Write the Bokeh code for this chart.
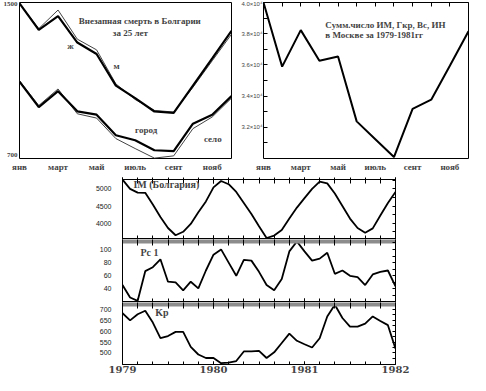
from bokeh.plotting import figure
from bokeh.layouts import column, row
from bokeh.models import FixedTicker, LinearAxis, Range1d, Spacer, Label
from bokeh.embed import file_html
from bokeh.resources import INLINE

SERIF = "Liberation Serif"
SANS = "Liberation Sans"

# ---------------- data ----------------
months = [1, 2, 3, 4, 5, 6, 7, 8, 9, 10, 11, 12]
month_tick_pos = [1, 3, 5, 7, 9, 11]
month_tick_labels = ["янв", "март", "май", "июль", "сент", "нояб"]

deaths_m = [1505, 1364, 1438, 1297, 1236, 1068, 1001, 930, 923, 1068, 1213, 1359]
deaths_f = [1505, 1371, 1470, 1315, 1258, 1077, 994, 936, 927, 1059, 1200, 1341]
deaths_city = [1089, 953, 1038, 931, 913, 804, 777, 724, 719, 865, 913, 1012]
deaths_village = [1094, 962, 1050, 918, 895, 786, 733, 682, 694, 839, 901, 1001]

moscow = [40000, 35890, 38230, 36260, 36540, 32380, 31230, 30090, 33180, 33770, 35950, 38160]
moscow_ticks = [32000, 34000, 36000, 38000, 40000]
moscow_tick_labels = ["3.2×10⁴", "3.4×10⁴", "3.6×10⁴", "3.8×10⁴", "4.0×10⁴"]

year_ticks = [1979, 1980, 1981, 1982]
month_index = list(range(37))  # monthly samples Jan 1979 .. Jan 1982

im = [5270, 5000, 4890, 4885, 4545, 4180, 3860, 3650, 3750, 3980, 4320, 4635,
      5045, 5230, 5135, 4910, 4590, 4270, 3910, 3570, 3640, 3800, 4135, 4455,
      4730, 5000, 5210, 5160, 4865, 4500, 4135, 3860, 3725, 3850, 4225, 4590, 4910]
pc1 = [46, 27, 22, 67, 73, 85, 51, 50, 38, 51, 41, 68,
       92, 100, 80, 60, 84, 83, 66, 46, 38, 55, 97, 112,
       97, 83, 86, 95, 63, 68, 60, 58, 46, 62, 66, 68, 44]
kp = [683, 650, 678, 694, 640, 568, 578, 597, 597, 528, 493, 477,
      477, 453, 456, 463, 507, 507, 510, 477, 503, 546, 589, 556,
      540, 525, 568, 668, 722, 661, 621, 621, 635, 668, 647, 628, 520]

t = [1979 + k / 12 for k in month_index]


def base_fig(**kw):
    p = figure(output_backend="svg", toolbar_location=None, **kw)
    p.grid.visible = False
    p.outline_line_color = "black"
    p.outline_line_width = 1
    p.background_fill_color = "white"
    p.border_fill_color = "white"
    return p


def hidden_labels(ax):
    ax.major_label_text_font_size = "1px"
    ax.major_label_text_color = None
    ax.major_label_standoff = 0


# ---------------- top-left ----------------
pA = base_fig(width=238, height=177, x_range=Range1d(1, 12), y_range=Range1d(680, 1510),
              min_border_left=15, min_border_right=7, min_border_top=2, min_border_bottom=19)
pA.xaxis.ticker = FixedTicker(ticks=month_tick_pos)
pA.xaxis.major_label_overrides = {p: l for p, l in zip(month_tick_pos, month_tick_labels)}
pA.yaxis.ticker = FixedTicker(ticks=[700, 1500])
for ax in (pA.xaxis[0], pA.yaxis[0]):
    ax.axis_line_color = None
    ax.major_tick_in = 0
    ax.major_tick_out = 0
    ax.minor_tick_line_color = None
    ax.major_label_text_font = SERIF
    ax.major_label_text_font_style = "bold"
pA.xaxis.major_label_text_font_size = "9px"
pA.xaxis.major_label_standoff = 3
pA.yaxis.major_label_text_font_size = "7px"
pA.yaxis.major_label_standoff = 2

pA.line(months, deaths_f, line_width=1, color="#444444")
pA.line(months, deaths_m, line_width=2.2, color="black")
pA.line(months, deaths_village, line_width=1, color="#444444")
pA.line(months, deaths_city, line_width=2.2, color="black")

for x, y, txt in [(7.24, 1414, "Внезапная смерть в Болгарии"), (6.75, 1350, "за 25 лет"),
                  (3.65, 1281, "ж"), (6.04, 1170, "м"), (7.57, 832, "город"), (11.03, 784, "село")]:
    pA.add_layout(Label(x=x, y=y, text=txt, text_font=SERIF, text_font_style="bold",
                        text_font_size="9px", text_align="center", text_baseline="middle"))

# ---------------- top-right ----------------
pB = base_fig(width=232, height=177, x_range=Range1d(1, 12), y_range=Range1d(30000, 40000),
              min_border_left=22, min_border_right=2, min_border_top=2, min_border_bottom=19)
pB.xaxis.ticker = FixedTicker(ticks=month_tick_pos)
pB.xaxis.major_label_overrides = {p: l for p, l in zip(month_tick_pos, month_tick_labels)}
pB.xaxis.axis_line_color = None
pB.xaxis.major_tick_in = 0
pB.xaxis.major_tick_out = 0
pB.xaxis.minor_tick_line_color = None
pB.xaxis.major_label_text_font = SERIF
pB.xaxis.major_label_text_font_style = "bold"
pB.xaxis.major_label_text_font_size = "9px"
pB.xaxis.major_label_standoff = 3

pB.yaxis.ticker = FixedTicker(ticks=moscow_ticks, minor_ticks=[31000, 33000, 35000, 37000, 39000])
pB.yaxis.major_label_overrides = {p: l for p, l in zip(moscow_ticks, moscow_tick_labels)}
pB.yaxis.axis_line_color = None
pB.yaxis.major_tick_in = 4
pB.yaxis.major_tick_out = 0
pB.yaxis.minor_tick_in = 4
pB.yaxis.minor_tick_out = 0
pB.yaxis.major_label_text_font = SANS
pB.yaxis.major_label_text_font_size = "6px"
pB.yaxis.major_label_standoff = 1

topB = LinearAxis(ticker=FixedTicker(ticks=months), axis_line_color=None,
                  major_tick_in=4, major_tick_out=0, minor_tick_line_color=None)
hidden_labels(topB)
pB.add_layout(topB, "above")

pB.line(months, moscow, line_width=2, color="black")
for x, y, txt in [(4.32, 38560, "Сумм.число ИМ, Гкр, Вс, ИН"), (4.32, 37910, "в Москве за 1979-1981гг")]:
    pB.add_layout(Label(x=x, y=y, text=txt, text_font=SERIF, text_font_style="bold",
                        text_font_size="9px", text_align="left", text_baseline="middle"))

# ---------------- bottom stacked panels ----------------
minor_x = [1979 + k / 6 for k in range(19)]


def panel(height, yr, yticks, yminor, series, label, lx, ly, top, bottom, gray_top, show_years=False):
    p = base_fig(width=378, height=height, x_range=Range1d(1979, 1982), y_range=Range1d(*yr),
                 min_border_left=29, min_border_right=75, min_border_top=top, min_border_bottom=bottom)
    ax = p.xaxis[0]
    ax.ticker = FixedTicker(ticks=year_ticks, minor_ticks=minor_x)
    ax.axis_line_color = None
    ax.major_tick_in = 3
    ax.major_tick_out = 1
    ax.minor_tick_in = 3
    ax.minor_tick_out = 1
    if show_years:
        ax.major_label_text_font = "DejaVu Serif"
        ax.major_label_text_font_style = "bold"
        ax.major_label_text_font_size = "10px"
        ax.major_label_standoff = 1
        ax.major_tick_out = 0
        ax.minor_tick_out = 0
    else:
        hidden_labels(ax)
    above = LinearAxis(ticker=FixedTicker(ticks=year_ticks, minor_ticks=minor_x),
                       major_tick_in=4, major_tick_out=2, minor_tick_in=4, minor_tick_out=2)
    if gray_top:
        above.axis_line_color = "#8c8c8c"
        above.axis_line_width = 4
    else:
        above.axis_line_color = None
    hidden_labels(above)
    p.add_layout(above, "above")
    yax = p.yaxis[0]
    yax.ticker = FixedTicker(ticks=yticks)
    yax.axis_line_color = None
    yax.major_tick_in = 0
    yax.major_tick_out = 0
    yax.minor_tick_line_color = None
    yax.major_label_text_font = SANS
    yax.major_label_text_font_size = "7px"
    yax.major_label_text_color = "#222222"
    yax.major_label_standoff = 11
    right = LinearAxis(ticker=FixedTicker(ticks=yticks, minor_ticks=yminor), axis_line_color=None,
                       major_tick_in=3, major_tick_out=0, minor_tick_in=3, minor_tick_out=0)
    hidden_labels(right)
    p.add_layout(right, "right")
    p.line(t, series, line_width=1.8, color="black")
    p.add_layout(Label(x=lx, y=ly, text=label, text_font=SERIF, text_font_style="bold",
                       text_font_size="10px", text_align="left", text_baseline="middle"))
    return p


p1 = panel(62, (3555, 5273), [4000, 4500, 5000], [3750, 4250, 4750, 5250], im,
           "IM (Болгария)", 1979.12, 5137, 1, 1, False)
p2 = panel(63, (21, 112), [40, 60, 80, 100], [30, 50, 70, 90, 110], pc1,
           "Pc 1", 1979.197, 96, 2, 1, True)
p3 = panel(73, (447, 723), [500, 550, 600, 650, 700], [475, 525, 575, 625, 675], kp,
           "Kp", 1979.36, 684, 2, 11, True, show_years=True)

bottom = column(p1, p2, p3, spacing=0)
layout = column(row(pA, pB, spacing=0), row(Spacer(width=92, height=198), bottom, spacing=0), spacing=0)

open("out.html", "w").write(file_html(layout, INLINE))
